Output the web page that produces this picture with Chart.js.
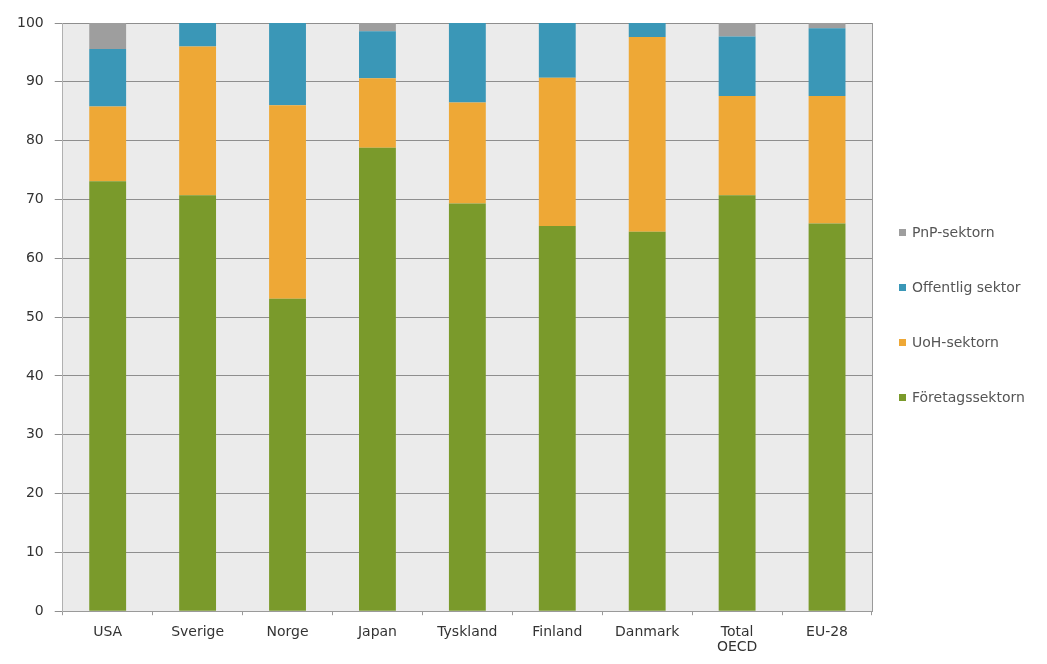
<!DOCTYPE html>
<html>
<head>
<meta charset="utf-8">
<script src="https://cdn.jsdelivr.net/npm/chart.js@4.4.0/dist/chart.umd.min.js"></script>
<style>
  html, body { margin: 0; padding: 0; background: #fff; }
  #wrap { width: 1047px; height: 664px; position: relative; }
</style>
</head>
<body>
<div id="wrap"><canvas id="graph"></canvas></div>
<script>
const countries = ['USA', 'Sverige', 'Norge', 'Japan', 'Tyskland', 'Finland', 'Danmark', ['Total', 'OECD'], 'EU-28'];
const foretag   = [73.1, 70.7, 53.1, 78.8, 69.3, 65.5, 64.5, 70.7, 65.9];
const uoh       = [12.7, 25.3, 32.9, 11.8, 17.2, 25.2, 33.1, 16.9, 21.7];
const offentlig = [9.8, 4.0, 14.0, 8.0, 13.5, 9.3, 2.4, 10.1, 11.5];
const pnp       = [4.4, 0, 0, 1.4, 0, 0, 0, 2.3, 0.9];
const seriesNames = ['Företagssektorn', 'UoH-sektorn', 'Offentlig sektor', 'PnP-sektorn'];
const seriesColors = ['#7a9a2b', '#eea836', '#3a97b7', '#9e9e9e'];

const FONT = "'DejaVu Sans', sans-serif";

// grey plot background + right border
const plotBackground = {
  id: 'plotBackground',
  beforeDraw(chart) {
    const { ctx, chartArea: a } = chart;
    ctx.save();
    ctx.fillStyle = '#ebebeb';
    ctx.fillRect(a.left, a.top, a.right - a.left, a.bottom - a.top);
    ctx.restore();
  },
  afterDatasetsDraw(chart) {
    const { ctx, chartArea: a } = chart;
    ctx.save();
    ctx.strokeStyle = '#9a9a9a';
    ctx.lineWidth = 1;
    ctx.beginPath();
    ctx.moveTo(a.right + 0.5, a.top);
    ctx.lineTo(a.right + 0.5, a.bottom);
    ctx.stroke();
    ctx.restore();
  }
};

// legend on the right, top item = last series
const sideLegend = {
  id: 'sideLegend',
  afterDraw(chart) {
    const { ctx } = chart;
    const sets = chart.data.datasets.slice().reverse();
    ctx.save();
    ctx.font = '14px ' + FONT;
    ctx.textBaseline = 'middle';
    sets.forEach((ds, i) => {
      const y = 232 + i * 55;
      ctx.fillStyle = ds.backgroundColor;
      ctx.fillRect(899, y - 3, 7, 7);
      ctx.fillStyle = '#555';
      ctx.fillText(ds.label, 912, y + 1);
    });
    ctx.restore();
  }
};

const datasets = [foretag, uoh, offentlig, pnp].map((vals, i) => ({
  label: seriesNames[i],
  data: vals,
  backgroundColor: seriesColors[i],
  borderWidth: 0,
  barPercentage: 0.41,
  categoryPercentage: 1.0
}));

new Chart(document.getElementById('graph'), {
  type: 'bar',
  data: { labels: countries, datasets },
  plugins: [plotBackground, sideLegend],
  options: {
    responsive: true,
    maintainAspectRatio: false,
    animation: false,
    layout: { padding: { left: 6, right: 175, top: 23, bottom: 0 } },
    plugins: {
      legend: { display: false },
      tooltip: { enabled: false }
    },
    scales: {
      x: {
        stacked: true,
        grid: {
          drawOnChartArea: false,
          drawTicks: true,
          tickLength: 4,
          color: '#9a9a9a'
        },
        border: { color: '#9a9a9a' },
        ticks: {
          color: '#333',
          font: { family: FONT, size: 14, lineHeight: 1.1 },
          padding: 9,
          maxRotation: 0,
          autoSkip: false
        }
      },
      y: {
        stacked: true,
        min: 0,
        max: 100,
        grid: {
          color: '#8e8e8e',
          tickLength: 8
        },
        border: { color: '#b0b0b0' },
        ticks: {
          stepSize: 10,
          color: '#333',
          font: { family: FONT, size: 14 },
          padding: 11
        }
      }
    }
  }
});
</script>
</body>
</html>
